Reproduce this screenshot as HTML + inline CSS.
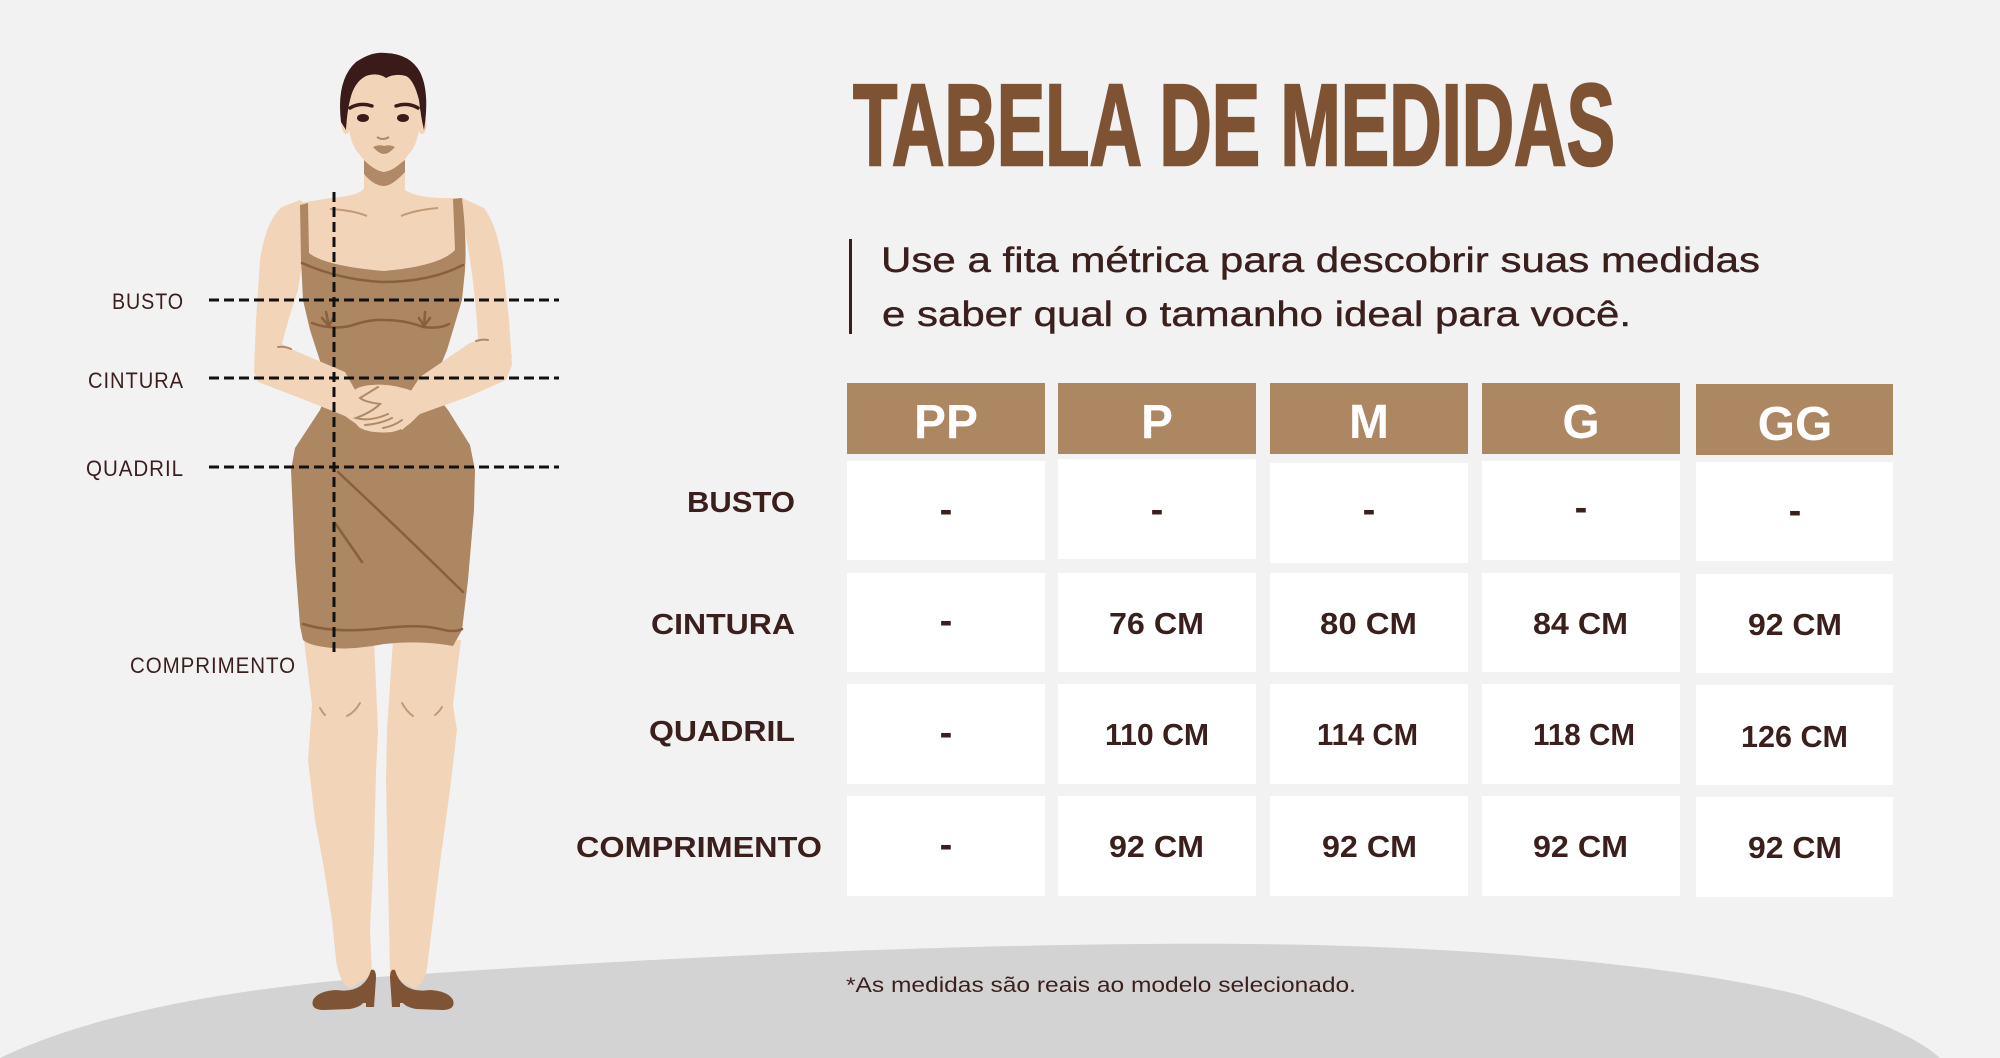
<!DOCTYPE html>
<html><head><meta charset="utf-8"><style>
html,body{margin:0;padding:0;background:#f2f2f2;}
svg{display:block;}
</style></head><body>
<svg width="2000" height="1058" viewBox="0 0 2000 1058" xmlns="http://www.w3.org/2000/svg">
<rect x="0" y="0" width="2000" height="1058" fill="#f2f2f2"/>
<!-- ground -->
<path d="M0 1058 C100 1010 250 985 420 974 C700 955 1000 942 1250 944 C1500 946 1700 970 1800 995 C1880 1020 1920 1040 1940 1058 Z" fill="#d3d3d3"/>

<!-- ===== FIGURE ===== -->
<g>
<!-- legs -->
<path d="M304 640 L312 705 L308 760 L315 820 L323 863 L332 920 L336 960 Q340 985 350 988 L372 975 L370 930 L374 850 L376 773 L378 730 L374 640 Z" fill="#f2d5b9"/>
<path d="M393 640 L387 730 L386 780 L388 880 L390 975 L414 988 Q426 985 428 960 L440 863 L450 790 L457 730 L453 705 L461 640 Z" fill="#f2d5b9"/>
<g stroke="#c09a78" stroke-width="2" fill="none" stroke-linecap="round">
<path d="M320 708 Q322 712 325 715"/><path d="M347 716 Q355 712 360 703"/>
<path d="M402 703 Q407 712 413 716"/><path d="M435 715 Q439 712 442 707"/>
</g>
<!-- shoes -->
<path d="M336 990 Q318 991 313 1000 Q310 1010 324 1010 L350 1009 Q360 1007 363 1003 L366 1003 L366 1007 L374 1007 L376 978 Q376 968 371 970 Q364 994 336 990 Z" fill="#7f5434"/>
<path d="M430 990 Q448 991 453 1000 Q456 1010 442 1010 L416 1009 Q406 1007 403 1003 L400 1003 L400 1007 L392 1007 L390 978 Q390 968 395 970 Q402 994 430 990 Z" fill="#7f5434"/>

<!-- upper arms -->
<path d="M300 200 L282 207 Q266 220 260 260 L256 320 L254 372 L258 382 L300 398 L345 416 L360 426 L372 420 L345 372 L293 350 L282 344 Q288 320 298 290 L304 250 L306 205 Z" fill="#f2d5b9"/>
<path d="M462 198 L484 208 Q497 225 503 265 L509 320 L512 365 L506 380 L470 396 L420 414 L402 430 L392 420 L420 377 L470 343 L478 340 Q476 300 470 260 L460 200 Z" fill="#f2d5b9"/>
<!-- neck + chest -->
<path d="M364 150 L405 150 L405 190 Q415 197 440 198 L462 198 L462 300 L303 300 L300 203 L330 198 Q360 196 364 188 Z" fill="#f2d5b9"/>
<path d="M364 160 Q384 176 405 160 L405 172 Q392 186 384 186 Q374 186 364 174 Z" fill="#b08a68"/>
<!-- head -->
<ellipse cx="346" cy="124" rx="4.5" ry="10" fill="#f2d5b9"/>
<ellipse cx="422" cy="124" rx="4.5" ry="10" fill="#f2d5b9"/>
<path d="M348 100 Q346 135 356 150 Q370 170 384 172 Q398 170 412 150 Q422 135 420 100 Q418 68 384 66 Q350 68 348 100 Z" fill="#f2d5b9"/>
<path d="M341 122 Q336 80 356 62 Q372 51 386 53 Q410 54 420 72 Q430 92 424 130 Q421 118 419 100 Q414 80 406 76 Q395 73 386 78 Q378 72 366 76 Q354 82 350 100 Q347 112 346 130 Z" fill="#3a1b1a"/>
<path d="M350 108 Q360 102 372 106" stroke="#3a1b1a" stroke-width="3.5" fill="none" stroke-linecap="round"/>
<path d="M396 106 Q408 102 418 108" stroke="#3a1b1a" stroke-width="3.5" fill="none" stroke-linecap="round"/>
<ellipse cx="363" cy="118" rx="6" ry="4" fill="#3a1b1a"/>
<ellipse cx="403" cy="118" rx="6" ry="4" fill="#3a1b1a"/>
<path d="M377 137 Q383 141 389 137" stroke="#b08a68" stroke-width="2" fill="none"/>
<path d="M373 147 Q379 144 384 146 Q389 144 395 147 Q389 154 384 154 Q379 154 373 147 Z" fill="#b08a68"/>

<!-- dress -->
<path d="M300 205 L308 203 L309 253 Q325 266 384 271 Q440 266 455 250 L453 199 L462 198 Q467 240 465 270 L462 300 L447 350 L440 367 L430 385 L440 400 L448 410 L470 445 L475 470 L474 510 L468 580 L462 630 L453 646 Q420 640 384 644 Q350 650 333 648 Q310 646 303 640 L300 626 L295 560 L291 470 L295 448 L320 410 L330 385 L322 367 L310 330 L303 300 L301 260 Z" fill="#ad8662"/>
<g stroke="#8a5f3e" stroke-width="2.5" fill="none" stroke-linecap="round">
<path d="M302 263 Q340 280 383 282 Q430 282 463 265"/>
<path d="M312 323 Q330 330 350 326 Q370 319 384 320 Q405 320 423 327 Q440 329 449 324"/>
<path d="M326 312 L329 326 M322 318 L329 326 M333 318 L329 326"/>
<path d="M425 312 L424 326 M419 318 L424 326 M430 318 L424 326"/>
<path d="M338 472 Q400 530 463 592"/>
<path d="M335 523 L362 562"/>
<path d="M303 624 Q335 634 384 628 Q420 624 440 629 Q455 633 462 629"/>
</g>
<g stroke="#c09a78" stroke-width="2" fill="none">
<path d="M330 209 Q352 210 367 216"/><path d="M401 216 Q415 210 438 208"/>
</g>
<!-- forearms over dress -->
<path d="M258 370 L300 398 L345 416 L362 428 L372 420 L345 372 L293 350 L280 345 Q262 352 256 360 Z" fill="#f2d5b9"/>
<path d="M511 360 L470 396 L420 414 L402 430 L392 420 L420 377 L470 343 L480 340 Q505 345 512 355 Z" fill="#f2d5b9"/>
<!-- hands -->
<path d="M350 398 Q352 386 372 385 Q392 383 415 392 Q425 400 420 412 Q410 428 392 432 Q372 434 360 428 Q348 418 350 398 Z" fill="#f2d5b9"/>
<g stroke="#b08a68" stroke-width="2" fill="none" stroke-linecap="round">
<path d="M378 387 Q365 395 360 398 Q365 402 380 404 Q372 412 356 418 Q370 422 388 414"/>
<path d="M365 425 Q380 424 392 418"/><path d="M383 428 Q394 426 402 420"/>
<path d="M278 347 Q285 346 291 349"/><path d="M476 341 Q482 339 488 340"/>
</g>

<!-- measurement dashes -->
<g stroke="#111" stroke-width="3" stroke-dasharray="10 5" fill="none">
<line x1="209" y1="300" x2="559" y2="300"/>
<line x1="209" y1="378" x2="559" y2="378"/>
<line x1="209" y1="467" x2="559" y2="467"/>
<line x1="334" y1="192" x2="334" y2="653"/>
</g>
</g>

<!-- left labels -->
<g font-family="Liberation Sans, sans-serif" font-size="22" fill="#3a1f1d" letter-spacing="1">
<text x="112" y="309" textLength="72" lengthAdjust="spacingAndGlyphs">BUSTO</text>
<text x="88" y="388" textLength="96" lengthAdjust="spacingAndGlyphs">CINTURA</text>
<text x="86" y="476" textLength="98" lengthAdjust="spacingAndGlyphs">QUADRIL</text>
<text x="130" y="673" textLength="166" lengthAdjust="spacingAndGlyphs">COMPRIMENTO</text>
</g>

<!-- title -->
<text x="853" y="165" font-family="Liberation Sans Narrow, Liberation Sans, sans-serif" font-weight="bold" font-size="116" fill="#7e5334" stroke="#7e5334" stroke-width="2.5" textLength="762" lengthAdjust="spacingAndGlyphs">TABELA DE MEDIDAS</text>

<!-- subtitle -->
<rect x="849" y="239" width="3" height="95" fill="#3a1f1d"/>
<g font-family="Liberation Sans, sans-serif" font-size="35" fill="#3a1f1d" stroke="#3a1f1d" stroke-width="0.4">
<text x="881" y="272" textLength="879" lengthAdjust="spacingAndGlyphs">Use a fita métrica para descobrir suas medidas</text>
<text x="882" y="326" textLength="749" lengthAdjust="spacingAndGlyphs">e saber qual o tamanho ideal para você.</text>
</g>

<!-- table header -->
<g fill="#ad8662">
<rect x="847" y="383" width="198" height="71"/>
<rect x="1058" y="383" width="198" height="71"/>
<rect x="1270" y="383" width="198" height="71"/>
<rect x="1482" y="383" width="198" height="71"/>
<rect x="1696" y="384" width="197" height="71"/>
</g>
<g font-family="Liberation Sans, sans-serif" font-weight="bold" font-size="48" fill="#ffffff" text-anchor="middle">
<text x="946" y="438">PP</text>
<text x="1157" y="438">P</text>
<text x="1369" y="438">M</text>
<text x="1581" y="438">G</text>
<text x="1795" y="440">GG</text>
</g>

<!-- table cells -->
<g fill="#ffffff">
<rect x="847" y="461" width="198" height="99"/>
<rect x="1058" y="459" width="198" height="100"/>
<rect x="1270" y="463" width="198" height="100"/>
<rect x="1482" y="461" width="198" height="99"/>
<rect x="1696" y="462" width="197" height="99"/>

<rect x="847" y="573" width="198" height="99"/>
<rect x="1058" y="573" width="198" height="99"/>
<rect x="1270" y="573" width="198" height="99"/>
<rect x="1482" y="573" width="198" height="99"/>
<rect x="1696" y="574" width="197" height="99"/>

<rect x="847" y="684" width="198" height="100"/>
<rect x="1058" y="684" width="198" height="100"/>
<rect x="1270" y="684" width="198" height="100"/>
<rect x="1482" y="684" width="198" height="100"/>
<rect x="1696" y="685" width="197" height="100"/>

<rect x="847" y="796" width="198" height="100"/>
<rect x="1058" y="796" width="198" height="100"/>
<rect x="1270" y="796" width="198" height="100"/>
<rect x="1482" y="796" width="198" height="100"/>
<rect x="1696" y="797" width="197" height="100"/>
</g>

<!-- row labels -->
<g font-family="Liberation Sans, sans-serif" font-weight="bold" font-size="29" fill="#3a1f1d">
<text x="687" y="512" textLength="108" lengthAdjust="spacingAndGlyphs">BUSTO</text>
<text x="651" y="634" textLength="144" lengthAdjust="spacingAndGlyphs">CINTURA</text>
<text x="649" y="741" textLength="146" lengthAdjust="spacingAndGlyphs">QUADRIL</text>
<text x="576" y="857" textLength="246" lengthAdjust="spacingAndGlyphs">COMPRIMENTO</text>
</g>

<!-- dashes -->
<g font-family="Liberation Sans, sans-serif" font-weight="bold" font-size="38" fill="#3a1f1d" text-anchor="middle">
<text x="946" y="522">-</text>
<text x="1157" y="522">-</text>
<text x="1369" y="522">-</text>
<text x="1581" y="520">-</text>
<text x="1795" y="523">-</text>
<text x="946" y="633">-</text>
<text x="946" y="745">-</text>
<text x="946" y="857">-</text>
</g>

<!-- values -->
<g font-family="Liberation Sans, sans-serif" font-weight="bold" font-size="31" fill="#3a1f1d">
<text x="1109" y="634" textLength="95" lengthAdjust="spacingAndGlyphs">76 CM</text>
<text x="1320" y="634" textLength="97" lengthAdjust="spacingAndGlyphs">80 CM</text>
<text x="1533" y="634" textLength="95" lengthAdjust="spacingAndGlyphs">84 CM</text>
<text x="1748" y="635" textLength="94" lengthAdjust="spacingAndGlyphs">92 CM</text>

<text x="1105" y="745" textLength="104" lengthAdjust="spacingAndGlyphs">110 CM</text>
<text x="1317" y="745" textLength="101" lengthAdjust="spacingAndGlyphs">114 CM</text>
<text x="1533" y="745" textLength="102" lengthAdjust="spacingAndGlyphs">118 CM</text>
<text x="1741" y="747" textLength="107" lengthAdjust="spacingAndGlyphs">126 CM</text>

<text x="1109" y="857" textLength="95" lengthAdjust="spacingAndGlyphs">92 CM</text>
<text x="1322" y="857" textLength="95" lengthAdjust="spacingAndGlyphs">92 CM</text>
<text x="1533" y="857" textLength="95" lengthAdjust="spacingAndGlyphs">92 CM</text>
<text x="1748" y="858" textLength="94" lengthAdjust="spacingAndGlyphs">92 CM</text>
</g>

<!-- footnote -->
<text x="846" y="992" font-family="Liberation Sans, sans-serif" font-size="21" fill="#3a1f1d" textLength="510" lengthAdjust="spacingAndGlyphs">*As medidas são reais ao modelo selecionado.</text>
</svg>
</body></html>
